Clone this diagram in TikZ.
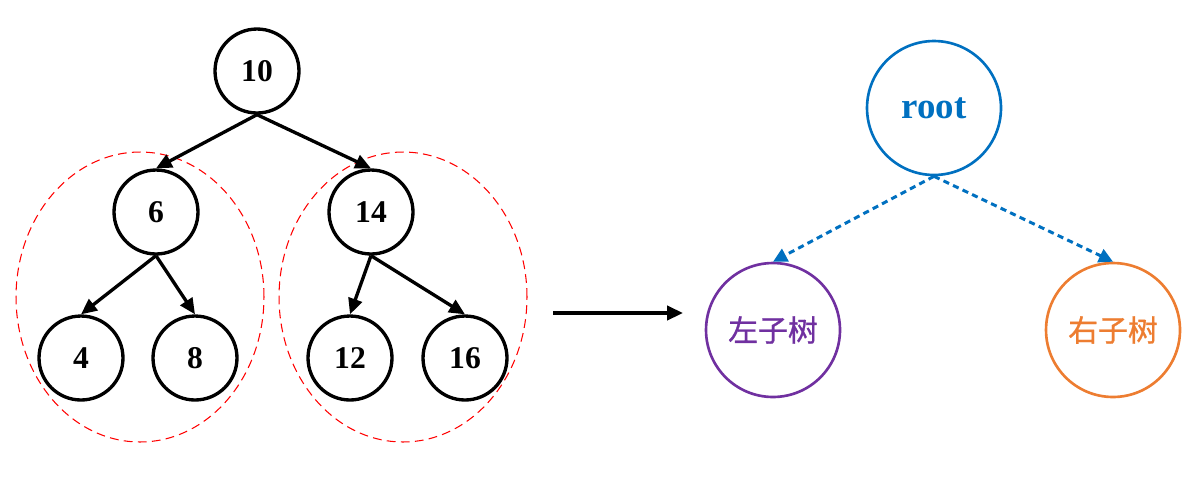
\documentclass[tikz,border=0pt]{standalone}
\usepackage{fontspec}
\setmainfont{Liberation Serif}
\newfontfamily\cjk[FakeBold=1]{Noto Sans CJK SC}
\usepackage{xcolor}
\usepackage{tikz}
\usetikzlibrary{arrows.meta,shapes.geometric}
\definecolor{rootblue}{RGB}{0,112,192}
\definecolor{leftpurple}{RGB}{112,48,160}
\definecolor{rightorange}{RGB}{237,125,49}

\begin{document}
\begin{tikzpicture}[x=0.02cm,y=-0.02cm,>={Triangle[length=9pt,width=8pt]},
  num/.style={circle,draw,line width=1.9pt,minimum size=1.68cm,inner sep=0pt,
    font=\fontsize{18}{20}\selectfont\bfseries},
  edge/.style={->,line width=1.9pt},
  group/.style={ellipse,draw=red,dashed,dash pattern=on 5pt off 3pt,line width=0.6pt,
    minimum width=4.96cm,minimum height=5.8cm},
  sub/.style={circle,draw,line width=1.5pt,minimum size=2.68cm,inner sep=0pt},
  link/.style={-{Triangle[length=8pt,width=8pt]},rootblue,line width=1.7pt,
    dash pattern=on 3.5pt off 2.5pt}]
  \useasboundingbox (0,0) rectangle (1192,488);
  % left: the tree
  \node[group] (lgrp) at (140,297) {};
  \node[group] (rgrp) at (403,297) {};
  \node[num] (n10) at (257,71) {10};
  \node[num] (n6) at (156,212) {6};
  \node[num] (n14) at (371,212) {14};
  \node[num] (n4) at (81,358) {4};
  \node[num] (n8) at (195,358) {8};
  \node[num] (n12) at (350,358) {12};
  \node[num] (n16) at (465,358) {16};
  \draw[edge] (n10.south) -- (n6.north);
  \draw[edge] (n10.south) -- (n14.north);
  \draw[edge] (n6.south) -- (n4.north);
  \draw[edge] (n6.south) -- (n8.north);
  \draw[edge] (n14.south) -- (n12.north);
  \draw[edge] (n14.south) -- (n16.north);
  % middle arrow
  \coordinate (from) at (553,313);
  \coordinate (to) at (683,313);
  \draw[edge] (from) -- (to);
  % right: root and subtrees
  \node[sub,draw=rootblue,text=rootblue,font=\fontsize{21}{24}\selectfont\bfseries]
    (root) at (934,108) {root};
  \node[sub,draw=leftpurple,text=leftpurple,font=\fontsize{17}{20}\selectfont\cjk]
    (ltree) at (773,330) {左子树};
  \node[sub,draw=rightorange,text=rightorange,font=\fontsize{17}{20}\selectfont\cjk]
    (rtree) at (1113,330) {右子树};
  \draw[link] (root.south) -- (ltree.north);
  \draw[link] (root.south) -- (rtree.north);
\end{tikzpicture}
\end{document}
